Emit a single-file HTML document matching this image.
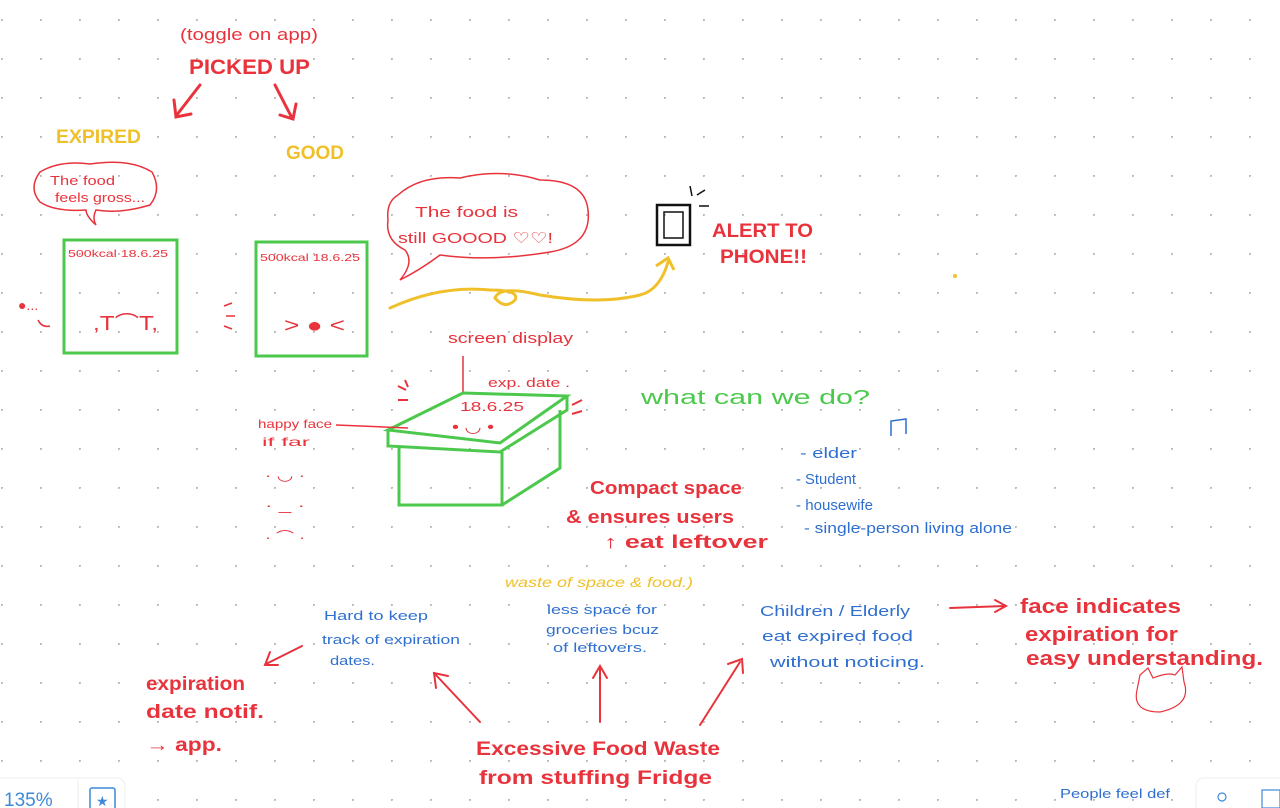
<!DOCTYPE html>
<html><head><meta charset="utf-8">
<style>
html,body{margin:0;padding:0;background:#fff;width:1280px;height:808px;overflow:hidden}
svg{display:block}
text{font-family:"Liberation Sans",sans-serif}
.r{fill:#e8333c}.y{fill:#f0c02a}.g{fill:#4cc94c}.b{fill:#2f6fd0}
</style></head><body>
<svg width="1280" height="808" viewBox="0 0 1280 808" xmlns="http://www.w3.org/2000/svg">
<defs><pattern id="d" x="1" y="19" width="39" height="39" patternUnits="userSpaceOnUse"><circle cx="0.5" cy="0.5" r="1.5" fill="#b8b8b8"/></pattern></defs>
<rect width="1280" height="808" fill="#fff"/>
<rect width="1280" height="808" fill="url(#d)"/>

<text x="180" y="40" class="r" font-size="17" textLength="138" lengthAdjust="spacingAndGlyphs">(toggle  on  app)</text>
<text x="189" y="74" class="r" font-size="21" font-weight="bold" textLength="121" lengthAdjust="spacingAndGlyphs">PICKED UP</text>
<g stroke="#e8333c" stroke-width="3" fill="none" stroke-linecap="round">
<path d="M200 85 L176 116 M174 100 L176 117 L191 114"/>
<path d="M275 85 L292 118 M280 115 L293 119 L296 104"/>
</g>
<text x="56" y="143" class="y" font-size="19" font-weight="bold" textLength="85" lengthAdjust="spacingAndGlyphs">EXPIRED</text>
<text x="286" y="159" class="y" font-size="19" font-weight="bold" textLength="58" lengthAdjust="spacingAndGlyphs">GOOD</text>

<path d="M40 172 Q60 160 90 164 Q130 158 152 172 Q162 190 150 205 Q120 214 96 210 Q92 218 96 225 Q86 216 86 210 Q55 212 40 202 Q28 188 40 172Z" fill="none" stroke="#e8333c" stroke-width="1.5"/>
<text x="50" y="185" class="r" font-size="13" textLength="65" lengthAdjust="spacingAndGlyphs">The  food</text>
<text x="55" y="202" class="r" font-size="13" textLength="90" lengthAdjust="spacingAndGlyphs">feels gross...</text>

<g stroke="#4cc94c" stroke-width="3" fill="none">
<rect x="64" y="240" width="113" height="113"/>
<rect x="256" y="242" width="111" height="114"/>
</g>
<text x="68" y="257" class="r" font-size="10" textLength="100" lengthAdjust="spacingAndGlyphs">500kcal     18.6.25</text>
<text x="260" y="261" class="r" font-size="10" textLength="100" lengthAdjust="spacingAndGlyphs">500kcal     18.6.25</text>
<text x="93" y="330" class="r" font-size="20" textLength="65" lengthAdjust="spacingAndGlyphs">,T⌒T,</text>
<text x="284" y="332" class="r" font-size="20" textLength="61" lengthAdjust="spacingAndGlyphs">&gt; ● &lt;</text>
<text x="18" y="310" class="r" font-size="14">●...</text>
<path d="M38 320 Q42 328 50 326" stroke="#e8333c" stroke-width="1.5" fill="none"/>
<path d="M224 306 l8 -3 M226 316 l9 0 M224 326 l8 3" stroke="#e8333c" stroke-width="1.5"/>

<path d="M398 195 Q420 175 460 178 Q500 168 540 180 Q585 180 588 210 Q592 245 550 252 Q490 262 440 255 Q420 270 400 280 Q415 262 405 250 Q385 240 388 220 Q386 202 398 195Z" fill="none" stroke="#e8333c" stroke-width="1.5"/>
<text x="415" y="217" class="r" font-size="15" textLength="103" lengthAdjust="spacingAndGlyphs">The  food  is</text>
<text x="398" y="243" class="r" font-size="15" textLength="155" lengthAdjust="spacingAndGlyphs">still GOOOD ♡♡!</text>

<path d="M390 308 Q440 285 490 290 Q520 290 515 300 Q505 310 495 298 Q500 285 540 295 Q600 305 640 295 Q660 290 668 262" stroke="#f0c02a" stroke-width="3" fill="none" stroke-linecap="round"/>
<path d="M656 266 L668 258 L674 270" stroke="#f0c02a" stroke-width="3" fill="none"/>

<rect x="657" y="205" width="33" height="40" fill="none" stroke="#111" stroke-width="2.5"/>
<rect x="664" y="212" width="19" height="26" fill="none" stroke="#111" stroke-width="1.5"/>
<path d="M690 186 l2 10 M697 195 l8 -5 M699 206 l10 0" stroke="#111" stroke-width="1.5"/>
<text x="712" y="237" class="r" font-size="19" font-weight="bold" textLength="101" lengthAdjust="spacingAndGlyphs">ALERT TO</text>
<text x="720" y="263" class="r" font-size="19" font-weight="bold" textLength="87" lengthAdjust="spacingAndGlyphs">PHONE!!</text>
<circle cx="955" cy="276" r="2" fill="#f0c02a"/>

<text x="448" y="343" class="r" font-size="15" textLength="125" lengthAdjust="spacingAndGlyphs">screen  display</text>
<line x1="463" y1="356" x2="463" y2="392" stroke="#e8333c" stroke-width="1.5"/>
<text x="488" y="387" class="r" font-size="13" textLength="82" lengthAdjust="spacingAndGlyphs">exp. date  .</text>
<g stroke="#4cc94c" stroke-width="3" fill="none">
<path d="M388 430 L463 393 L567 396 L500 443 Z"/>
<path d="M388 430 L388 446 L500 452 L567 410 L567 396"/>
<path d="M399 446 L399 505 L502 505 L502 452 M502 505 L560 468 L560 410"/>
</g>
<text x="460" y="411" class="r" font-size="13" textLength="64" lengthAdjust="spacingAndGlyphs">18.6.25</text>
<text x="452" y="432" class="r" font-size="16" textLength="42" lengthAdjust="spacingAndGlyphs">• ◡ •</text>
<path d="M398 386 l8 4 M405 380 l3 7 M398 400 l10 0 M572 405 l10 -5 M572 414 l10 -3" stroke="#e8333c" stroke-width="2"/>
<text x="258" y="428" class="r" font-size="12" textLength="74" lengthAdjust="spacingAndGlyphs">happy  face</text>
<text x="262" y="446" class="r" font-size="12" textLength="48" lengthAdjust="spacingAndGlyphs">if  far</text>
<line x1="336" y1="425" x2="408" y2="428" stroke="#e8333c" stroke-width="1.5"/>
<text x="265" y="480" class="r" font-size="14" textLength="40" lengthAdjust="spacingAndGlyphs">· ◡ ·</text>
<text x="265" y="510" class="r" font-size="14" textLength="40" lengthAdjust="spacingAndGlyphs">· _ ·</text>
<text x="265" y="542" class="r" font-size="14" textLength="40" lengthAdjust="spacingAndGlyphs">· ⌒ ·</text>

<text x="641" y="404" class="g" font-size="20" textLength="229" lengthAdjust="spacingAndGlyphs">what  can  we  do?</text>
<path d="M891 436 L891 421 L906 419 L906 434" stroke="#2f6fd0" stroke-width="1.5" fill="none"/>

<text x="800" y="458" class="b" font-size="15" textLength="57" lengthAdjust="spacingAndGlyphs">- elder</text>
<text x="796" y="484" class="b" font-size="15" textLength="60" lengthAdjust="spacingAndGlyphs">- Student</text>
<text x="796" y="510" class="b" font-size="15" textLength="77" lengthAdjust="spacingAndGlyphs">- housewife</text>
<text x="804" y="533" class="b" font-size="15" textLength="208" lengthAdjust="spacingAndGlyphs">- single-person living alone</text>

<text x="590" y="494" class="r" font-size="18" font-weight="bold" textLength="152" lengthAdjust="spacingAndGlyphs">Compact  space</text>
<text x="566" y="523" class="r" font-size="18" font-weight="bold" textLength="168" lengthAdjust="spacingAndGlyphs">&amp; ensures  users</text>
<text x="604" y="548" class="r" font-size="18" font-weight="bold" textLength="164" lengthAdjust="spacingAndGlyphs">↑  eat  leftover</text>
<text x="505" y="587" class="y" font-size="14" font-style="italic" textLength="188" lengthAdjust="spacingAndGlyphs">waste of space &amp; food.)</text>

<text x="324" y="620" class="b" font-size="13" textLength="104" lengthAdjust="spacingAndGlyphs">Hard  to  keep</text>
<text x="322" y="644" class="b" font-size="13" textLength="138" lengthAdjust="spacingAndGlyphs">track  of  expiration</text>
<text x="330" y="665" class="b" font-size="13" textLength="45" lengthAdjust="spacingAndGlyphs">dates.</text>
<text x="547" y="614" class="b" font-size="13" textLength="110" lengthAdjust="spacingAndGlyphs">less  space  for</text>
<text x="546" y="634" class="b" font-size="13" textLength="113" lengthAdjust="spacingAndGlyphs">groceries  bcuz</text>
<text x="553" y="652" class="b" font-size="13" textLength="94" lengthAdjust="spacingAndGlyphs">of  leftovers.</text>
<text x="760" y="616" class="b" font-size="15" textLength="150" lengthAdjust="spacingAndGlyphs">Children / Elderly</text>
<text x="762" y="641" class="b" font-size="15" textLength="151" lengthAdjust="spacingAndGlyphs">eat  expired  food</text>
<text x="770" y="667" class="b" font-size="15" textLength="155" lengthAdjust="spacingAndGlyphs">without  noticing.</text>

<g stroke="#e8333c" stroke-width="2" fill="none" stroke-linecap="round">
<path d="M302 646 L266 664 M270 652 L265 665 L278 665"/>
<path d="M950 608 L1005 606 M995 600 L1006 606 L995 612"/>
<path d="M480 722 L435 674 M436 688 L434 673 L448 676"/>
<path d="M600 722 L600 668 M593 678 L600 666 L607 678"/>
<path d="M700 725 L740 662 M728 664 L742 659 L743 673"/>
</g>
<text x="1020" y="613" class="r" font-size="20" font-weight="bold" textLength="161" lengthAdjust="spacingAndGlyphs">face  indicates</text>
<text x="1025" y="641" class="r" font-size="20" font-weight="bold" textLength="153" lengthAdjust="spacingAndGlyphs">expiration  for</text>
<text x="1026" y="665" class="r" font-size="20" font-weight="bold" textLength="237" lengthAdjust="spacingAndGlyphs">easy  understanding.</text>
<path d="M1140 675 L1148 668 L1153 678 Q1168 672 1175 675 L1182 667 L1184 682 Q1192 705 1160 712 Q1132 712 1137 690 Z" fill="none" stroke="#e8333c" stroke-width="1.2"/>

<text x="146" y="690" class="r" font-size="19" font-weight="bold" textLength="99" lengthAdjust="spacingAndGlyphs">expiration</text>
<text x="146" y="718" class="r" font-size="19" font-weight="bold" textLength="118" lengthAdjust="spacingAndGlyphs">date  notif.</text>
<text x="146" y="751" class="r" font-size="19" font-weight="bold" textLength="76" lengthAdjust="spacingAndGlyphs">→ app.</text>

<text x="476" y="755" class="r" font-size="19" font-weight="bold" textLength="244" lengthAdjust="spacingAndGlyphs">Excessive  Food  Waste</text>
<text x="479" y="784" class="r" font-size="19" font-weight="bold" textLength="233" lengthAdjust="spacingAndGlyphs">from  stuffing  Fridge</text>

<text x="1060" y="798" class="b" font-size="13" textLength="110" lengthAdjust="spacingAndGlyphs">People  feel  def</text>

<rect x="-10" y="778" width="135" height="40" rx="8" fill="#fff" stroke="#eee"/>
<text x="4" y="806" fill="#3d8ad8" font-size="19">135%</text>
<line x1="78" y1="780" x2="78" y2="808" stroke="#eee"/>
<rect x="90" y="788" width="25" height="22" rx="2" fill="none" stroke="#3d8ad8" stroke-width="1.5"/>
<text x="96" y="806" fill="#3d8ad8" font-size="14">★</text>
<rect x="1196" y="778" width="100" height="40" rx="8" fill="#fff" stroke="#eee"/>
<circle cx="1222" cy="797" r="4" fill="none" stroke="#3d8ad8" stroke-width="1.2"/>
<rect x="1262" y="790" width="18" height="18" fill="none" stroke="#3d8ad8" stroke-width="1.2"/>
</svg>
</body></html>
